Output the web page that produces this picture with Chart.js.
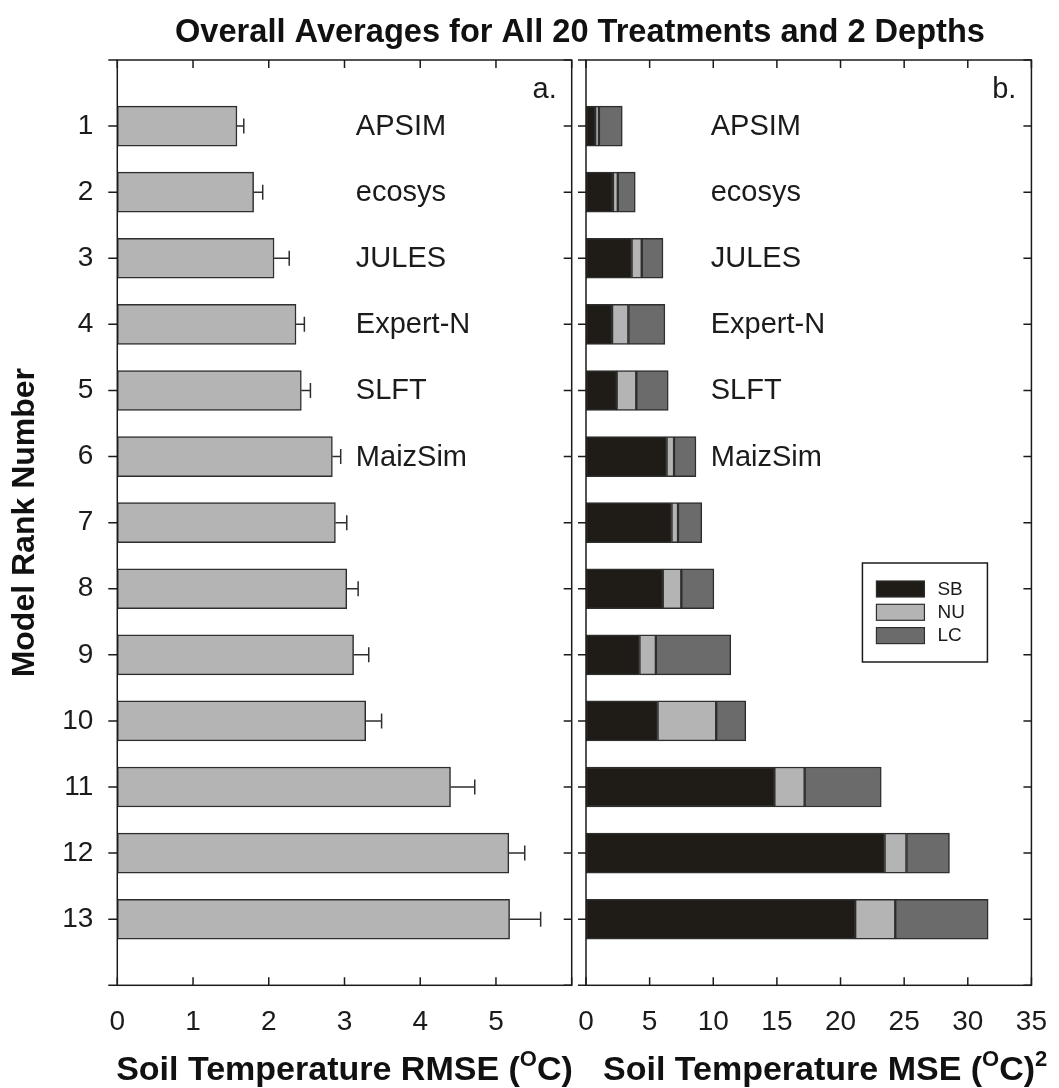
<!DOCTYPE html>
<html>
<head>
<meta charset="utf-8">
<script src="https://cdn.jsdelivr.net/npm/chart.js@4.4.1/dist/chart.umd.min.js"></script>
<style>
  html, body { margin: 0; padding: 0; background: #fff; }
  #wrap { position: relative; width: 1059px; height: 1088px; }
  canvas { position: absolute; left: 0; top: 0; }
</style>
</head>
<body>
<div id="wrap">
  <canvas id="rmseChart" width="1059" height="1088"></canvas>
  <canvas id="mseChart" width="1059" height="1088"></canvas>
</div>
<script>
// ---- data ----
const ranks = [1, 2, 3, 4, 5, 6, 7, 8, 9, 10, 11, 12, 13];
const modelNames = ['APSIM', 'ecosys', 'JULES', 'Expert-N', 'SLFT', 'MaizSim'];

// panel a: RMSE (°C) with standard error
const rmse    = [1.58, 1.80, 2.07, 2.36, 2.43, 2.84, 2.88, 3.03, 3.12, 3.28, 4.40, 5.17, 5.18];
const rmseErr = [0.09, 0.12, 0.20, 0.11, 0.12, 0.11, 0.15, 0.15, 0.20, 0.21, 0.32, 0.21, 0.41];

// panel b: MSE components (°C)^2
const mseSB = [0.72, 2.12, 3.58, 2.05, 2.41, 6.33, 6.72, 6.03, 4.20, 5.62, 14.80, 23.46, 21.15];
const mseNU = [0.30, 0.38, 0.80, 1.28, 1.54, 0.59, 0.51, 1.46, 1.29, 4.61, 2.38, 1.72, 3.15];
const mseLC = [1.83, 1.37, 1.67, 2.87, 2.51, 1.72, 1.87, 2.56, 5.89, 2.33, 6.02, 3.38, 7.30];

const rmseTicks = [0, 1, 2, 3, 4, 5];
const mseTicks = [0, 5, 10, 15, 20, 25, 30, 35];

// ---- style ----
const FONT = "'Liberation Sans', Arial, Helvetica, sans-serif";
const INK = '#1c1b1a';
const EDGE = '#2e2e2e';
const C_SB = '#1f1c18';
const C_NU = '#b4b4b4';
const C_LC = '#6b6b6b';

// Text made of runs, some of them raised as superscripts
function drawRich(ctx, parts, x, y, align, size) {
  const supSize = Math.round(size * 0.64);
  const widths = parts.map(p => {
    ctx.font = 'bold ' + (p.sup ? supSize : size) + 'px ' + FONT;
    return ctx.measureText(p.t).width;
  });
  const total = widths.reduce((s, w) => s + w, 0);
  let cx = align === 'center' ? x - total / 2 : x;
  ctx.textAlign = 'left';
  ctx.textBaseline = 'alphabetic';
  parts.forEach((p, i) => {
    ctx.font = 'bold ' + (p.sup ? supSize : size) + 'px ' + FONT;
    ctx.fillText(p.t, cx, p.sup ? y - size * 0.4 : y);
    cx += widths[i];
  });
}

// Box around the plot area plus tick marks on all four sides
const framePlugin = {
  id: 'panelFrame',
  afterDraw(chart, args, opts) {
    const { ctx, chartArea: a, scales: { x, y } } = chart;
    ctx.save();
    ctx.strokeStyle = INK;
    ctx.lineWidth = 1.5;
    ctx.beginPath();
    x.ticks.forEach(t => {
      const px = x.getPixelForValue(t.value);
      ctx.moveTo(px, a.top); ctx.lineTo(px, a.top + 8);
      ctx.moveTo(px, a.bottom); ctx.lineTo(px, a.bottom - 8);
    });
    y.ticks.forEach(t => {
      const py = y.getPixelForValue(t.value);
      ctx.moveTo(a.left, py); ctx.lineTo(a.left - opts.leftTick, py);
      ctx.moveTo(a.right, py); ctx.lineTo(a.right - 8, py);
    });
    ctx.stroke();
    ctx.strokeRect(a.left, a.top, a.right - a.left, a.bottom - a.top);

    // panel letter
    ctx.fillStyle = INK;
    ctx.font = '29px ' + FONT;
    ctx.textAlign = 'right';
    ctx.textBaseline = 'alphabetic';
    ctx.fillText(opts.letter, a.right - 15, a.top + 38);

    // model names beside the top-ranked bars
    ctx.textAlign = 'left';
    ctx.textBaseline = 'middle';
    const lx = x.getPixelForValue(opts.nameAt);
    modelNames.forEach((n, i) => {
      ctx.fillText(n, lx, y.getPixelForValue(ranks[i]) + 1);
    });

    // axis title with superscripts
    ctx.fillStyle = '#111';
    if (opts.xTitleAlign === 'center') {
      drawRich(ctx, opts.xTitle, (a.left + a.right) / 2, 1080, 'center', 34);
    } else {
      drawRich(ctx, opts.xTitle, opts.xTitleX, 1080, 'left', 34);
    }
    ctx.restore();
  }
};

// Error bars on the RMSE panel
const errorBarPlugin = {
  id: 'errorBars',
  afterDatasetsDraw(chart) {
    const { ctx, scales: { x, y } } = chart;
    ctx.save();
    ctx.strokeStyle = EDGE;
    ctx.lineWidth = 1.5;
    ctx.beginPath();
    rmse.forEach((v, i) => {
      const py = y.getPixelForValue(ranks[i]);
      const x0 = x.getPixelForValue(v);
      const x1 = x.getPixelForValue(v + rmseErr[i]);
      ctx.moveTo(x0, py); ctx.lineTo(x1, py);
      ctx.moveTo(x1, py - 7.5); ctx.lineTo(x1, py + 7.5);
    });
    ctx.stroke();
    ctx.restore();
  }
};

// Figure heading across both panels
const headingPlugin = {
  id: 'heading',
  afterDraw(chart) {
    const { ctx } = chart;
    ctx.save();
    ctx.fillStyle = '#111';
    ctx.font = 'bold 32.6px ' + FONT;
    ctx.textAlign = 'center';
    ctx.textBaseline = 'alphabetic';
    ctx.fillText('Overall Averages for All 20 Treatments and 2 Depths', 580, 42);
    ctx.restore();
  }
};

// Boxed legend inside the MSE panel
const boxLegendPlugin = {
  id: 'boxLegend',
  afterDraw(chart) {
    const { ctx, chartArea: a } = chart;
    const left = a.right - 169, top = a.top + 503, w = 125, h = 99;
    ctx.save();
    ctx.fillStyle = '#fff';
    ctx.fillRect(left, top, w, h);
    ctx.strokeStyle = INK;
    ctx.lineWidth = 1.5;
    ctx.strokeRect(left, top, w, h);
    ctx.font = '19px ' + FONT;
    ctx.textAlign = 'left';
    ctx.textBaseline = 'middle';
    chart.data.datasets.forEach((ds, i) => {
      const sy = top + 18 + i * 23.3;
      ctx.fillStyle = ds.backgroundColor;
      ctx.fillRect(left + 14, sy, 48, 16);
      ctx.strokeStyle = EDGE;
      ctx.lineWidth = 1.2;
      ctx.strokeRect(left + 14, sy, 48, 16);
      ctx.fillStyle = INK;
      ctx.fillText(ds.label, left + 75, sy + 8.5);
    });
    ctx.restore();
  }
};

const toXY = arr => arr.map((v, i) => ({ x: v, y: ranks[i] }));

const rankScale = (extra) => Object.assign({
  type: 'linear',
  min: 0, max: 14,
  reverse: true,
  offset: false,
  grid: { display: false, offset: false },
  border: { display: false },
  ticks: {
    stepSize: 1,
    autoSkip: false,
    color: INK,
    font: { family: FONT, size: 28 },
    padding: 16,
    callback: v => ranks.includes(v) ? String(v) : ''
  }
}, extra);

// ---- panel a ----
new Chart(document.getElementById('rmseChart'), {
  type: 'bar',
  data: {
    datasets: [{
      label: 'RMSE',
      data: toXY(rmse),
      backgroundColor: C_NU,
      borderColor: EDGE,
      borderWidth: 1.5,
      borderSkipped: false,
      barThickness: 40
    }]
  },
  options: {
    indexAxis: 'y',
    responsive: false,
    animation: false,
    layout: { padding: { left: 0, right: 487.3, top: 60, bottom: 0 } },
    plugins: {
      legend: { display: false },
      tooltip: { enabled: false },
      panelFrame: {
        letter: 'a.', leftTick: 9, nameAt: 3.15,
        xTitleAlign: 'center',
        xTitle: [{ t: 'Soil Temperature RMSE (' }, { t: 'O', sup: true }, { t: 'C)' }]
      }
    },
    scales: {
      x: {
        type: 'linear',
        min: 0, max: 6,
        grid: { display: false },
        border: { display: false },
        ticks: {
          stepSize: 1, autoSkip: false, maxRotation: 0,
          color: INK,
          font: { family: FONT, size: 28 },
          padding: 12,
          callback: v => rmseTicks.includes(v) ? String(v) : ''
        },
        afterFit: s => { s.height = 102.7; }
      },
      y: rankScale({
        title: {
          display: true,
          text: 'Model Rank Number',
          color: '#111',
          font: { family: FONT, size: 32, weight: 'bold' },
          padding: { top: 6, bottom: 0 }
        },
        afterFit: s => { s.width = 117.3; }
      })
    }
  },
  plugins: [headingPlugin, errorBarPlugin, framePlugin]
});

// ---- panel b ----
const seg = (label, arr, color) => ({
  label, data: toXY(arr),
  backgroundColor: color,
  borderColor: EDGE,
  borderWidth: 1.5,
  borderSkipped: false,
  barThickness: 40
});

new Chart(document.getElementById('mseChart'), {
  type: 'bar',
  data: {
    datasets: [seg('SB', mseSB, C_SB), seg('NU', mseNU, C_NU), seg('LC', mseLC, C_LC)]
  },
  options: {
    indexAxis: 'y',
    responsive: false,
    animation: false,
    layout: { padding: { left: 586, right: 19, top: 60, bottom: 0 } },
    plugins: {
      legend: { display: false },
      tooltip: { enabled: false },
      panelFrame: {
        letter: 'b.', leftTick: 8, nameAt: 9.8,
        xTitleAlign: 'left', xTitleX: 603,
        xTitle: [{ t: 'Soil Temperature MSE (' }, { t: 'O', sup: true }, { t: 'C)' }, { t: '2', sup: true }]
      }
    },
    scales: {
      x: {
        type: 'linear',
        stacked: true,
        min: 0, max: 35,
        grid: { display: false },
        border: { display: false },
        ticks: {
          stepSize: 5, autoSkip: false, maxRotation: 0,
          color: INK,
          font: { family: FONT, size: 28 },
          padding: 12,
          callback: v => mseTicks.includes(v) ? String(v) : ''
        },
        afterFit: s => { s.height = 102.7; }
      },
      y: rankScale({
        stacked: true,
        ticks: { display: false, stepSize: 1 },
        afterFit: s => { s.width = 0; }
      })
    }
  },
  plugins: [boxLegendPlugin, framePlugin]
});
</script>
</body>
</html>
